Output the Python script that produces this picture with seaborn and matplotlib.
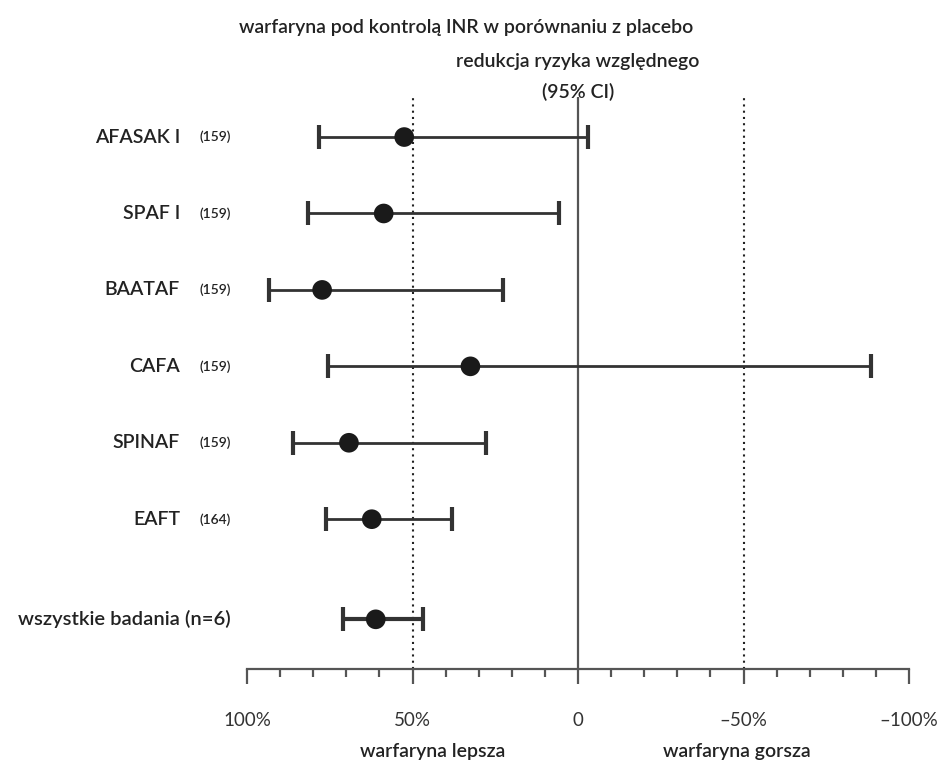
import matplotlib
matplotlib.use("Agg")
import matplotlib.pyplot as plt
import seaborn as sns
import pandas as pd

# data (relative risk reduction, %)
studies = ["AFASAK I", "SPAF I", "BAATAF", "CAFA", "SPINAF", "EAFT", "wszystkie badania (n=6)"]
counts = ["(159)", "(159)", "(159)", "(159)", "(159)", "(164)", ""]
rrr = [52.5, 58.7, 77.3, 32.5, 69.2, 62.3, 61.1]
ci_low = [78.2, 81.5, 93.3, 75.6, 86.1, 76.0, 70.9]
ci_high = [-3.0, 5.8, 22.8, -88.4, 27.9, 38.2, 46.7]
row_pos = [0, 1, 2, 3, 4, 5, 6.31]

df = pd.DataFrame({"study": studies, "n": counts, "rrr": rrr,
                   "lo": ci_low, "hi": ci_high, "y": row_pos})

sns.set_style("white")
plt.rcParams["font.family"] = ["Lato", "DejaVu Sans"]

fig = plt.figure(figsize=(9.42, 7.65), dpi=100)
ax = fig.add_axes([247 / 942, 96 / 765, 662 / 942, 572 / 765])

dark = "#222222"
line_c = "#333333"

# reference lines
ax.axvline(0, color="#555555", lw=1.6, zorder=1)
ax.axvline(50, color=dark, lw=1.5, ls=(0, (1, 2)), zorder=1)
ax.axvline(-50, color=dark, lw=1.5, ls=(0, (1, 2)), zorder=1)

# confidence intervals (axis runs from +100 on the left to -100 on the right)
for i, r in df.iterrows():
    lw = 3 if i == len(df) - 1 else 2
    err_minus = r["rrr"] - min(r["lo"], r["hi"])
    err_plus = max(r["lo"], r["hi"]) - r["rrr"]
    ax.errorbar(x=r["rrr"], y=r["y"], xerr=[[err_minus], [err_plus]],
                fmt="none", ecolor=line_c, elinewidth=lw, capsize=8.5, capthick=3, zorder=2)

sns.scatterplot(data=df, x="rrr", y="y", ax=ax, color="#1a1a1a", s=200,
                edgecolor="none", zorder=3, legend=False)

ax.set_xlim(100, -100)
ax.set_ylim(6.96, -0.524)

for s in ["top", "right", "left"]:
    ax.spines[s].set_visible(False)
ax.spines["bottom"].set_color("#555555")
ax.spines["bottom"].set_linewidth(1.6)

ax.set_xticks([100, 50, 0, -50, -100])
ax.set_xticklabels(["100%", "50%", "0", "\u201350%", "\u2013100%"], fontsize=13.5, color="#333333")
ax.set_xticks(range(-90, 100, 10), minor=True)
ax.tick_params(axis="x", which="major", direction="out", length=11, width=1.6,
               color="#555555", pad=20, bottom=True)
ax.tick_params(axis="x", which="minor", direction="out", length=6, width=1.6,
               color="#555555", bottom=True)
ax.set_yticks([])
ax.set_xlabel("")
ax.set_ylabel("")

# row labels
trans = ax.get_yaxis_transform()
for i, r in df.iterrows():
    if r["n"]:
        ax.text(-67 / 662, r["y"], r["study"], transform=trans, ha="right", va="center",
                fontsize=14, color=dark, fontweight="semibold")
        ax.text(-47 / 662, r["y"], r["n"], transform=trans, ha="left", va="center",
                fontsize=10, color=dark, fontweight="semibold")
    else:
        ax.text(-16 / 662, r["y"], r["study"], transform=trans, ha="right", va="center",
                fontsize=14.5, color=dark, fontweight="semibold")

# headings
fig.text(466 / 942, 1 - 28 / 765, "warfaryna pod kontrolą INR w porównaniu z placebo",
         ha="center", va="center", fontsize=14, color=dark, fontweight="semibold")
fig.text(578 / 942, 1 - 61 / 765, "redukcja ryzyka względnego",
         ha="center", va="center", fontsize=14, color=dark, fontweight="semibold")
fig.text(578 / 942, 1 - 92 / 765, "(95% CI)",
         ha="center", va="center", fontsize=14, color=dark, fontweight="semibold")

# bottom direction labels
xtrans = ax.get_xaxis_transform()
ax.text(44, -82 / 572, "warfaryna lepsza", transform=xtrans, ha="center", va="center",
        fontsize=14, color=dark, fontweight="semibold")
ax.text(-48, -82 / 572, "warfaryna gorsza", transform=xtrans, ha="center", va="center",
        fontsize=14, color=dark, fontweight="semibold")

fig.savefig("out.png", dpi=100, facecolor="white")
